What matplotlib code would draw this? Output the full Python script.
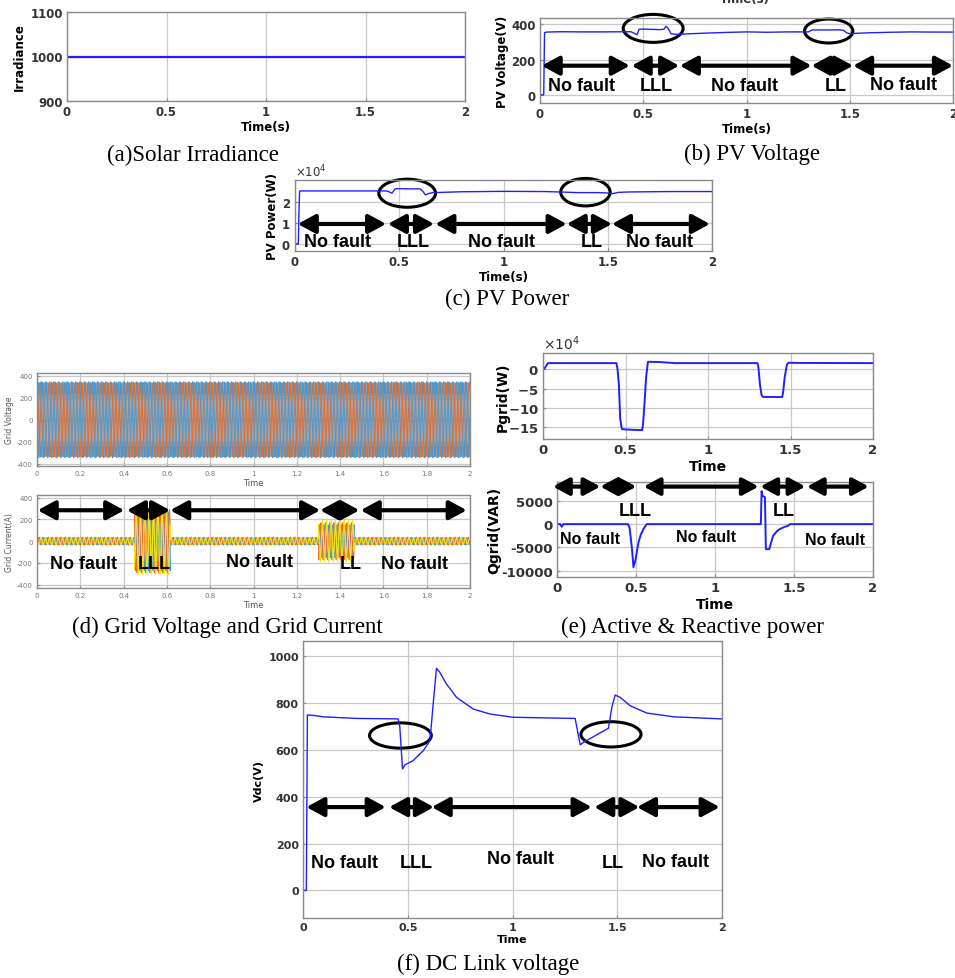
import matplotlib

matplotlib.use("Agg")
import matplotlib.pyplot as plt
import numpy as np
from matplotlib.patches import Ellipse
from matplotlib.ticker import ScalarFormatter

plt.rcParams["axes.unicode_minus"] = False

# ---------------- data ----------------
# (a) solar irradiance
t_irr = [0.0, 2.0]
irradiance = [1000, 1000]

# (b) PV voltage
t_pv = [0, 0.018, 0.022, 0.03, 0.1, 0.2, 0.3, 0.44, 0.455, 0.47, 0.48, 0.5, 0.55, 0.58,
        0.6, 0.61, 0.62, 0.635, 0.66, 0.7, 0.8, 0.9, 1.0, 1.1, 1.2, 1.3, 1.31, 1.32, 1.4,
        1.45, 1.47, 1.485, 1.5, 1.55, 1.6, 1.7, 1.8, 1.9, 2.0]
v_pv = [0, 0, 352, 356, 358, 357, 357, 358, 350, 341, 372, 373, 371, 370,
        372, 389, 378, 346, 343, 345, 350, 354, 357, 355, 357, 357, 364, 368, 368,
        369, 366, 352, 347, 350, 352, 355, 357, 356, 356]

# (c) PV power (W)
t_ppv = [0, 0.016, 0.018, 0.022, 0.03, 0.1, 0.2, 0.3, 0.44, 0.455, 0.465, 0.48, 0.5,
         0.55, 0.6, 0.615, 0.625, 0.64, 0.66, 0.7, 0.8, 1.0, 1.2, 1.3, 1.35, 1.45, 1.5,
         1.52, 1.55, 1.6, 1.8, 2.0]
p_pv = [0, 0, 12000, 25500, 25600, 25600, 25600, 25600, 25600, 25000, 24500, 26600, 26700,
        26600, 26600, 25200, 23700, 24300, 24800, 24900, 25200, 25400, 25300, 25000, 24800,
        24800, 24600, 24200, 24900, 25100, 25300, 25300]

# (d) grid voltage / current envelopes (peak values per phase)
grid_freq = 50.0
v_amp = [340, 335, 345]
seg_start = [0.0, 0.45, 0.615, 1.30, 1.465]
seg_end = [0.45, 0.615, 1.30, 1.465, 2.0]
i_amp_a = [32, 270, 32, 150, 32]
i_amp_b = [36, 290, 36, 170, 36]
i_amp_c = [30, 305, 30, 190, 30]

# (e) active power (W) and reactive power (VAR)
t_pg = [0, 0.01, 0.03, 0.445, 0.452, 0.46, 0.468, 0.478, 0.5, 0.6, 0.606, 0.615, 0.625,
        0.636, 0.7, 0.77, 0.8, 1.3, 1.305, 1.315, 1.325, 1.335, 1.45, 1.455, 1.465,
        1.478, 1.487, 1.55, 2.0]
p_grid = [0, 3000, 16500, 16500, 0, -40000, -130000, -156000, -157000, -159000, -145000,
          -90000, -20000, 20000, 19500, 17500, 16500, 16500, 8000, -40000, -68000, -72000,
          -72000, -60000, -20000, 12000, 17500, 17000, 16500]
t_qg = [0, 0.02, 0.03, 0.04, 0.45, 0.46, 0.475, 0.484, 0.495, 0.516, 0.53, 0.547, 0.568,
        1.29, 1.295, 1.3, 1.305, 1.316, 1.322, 1.343, 1.368, 1.39, 1.41, 1.44, 1.463,
        1.474, 2.0]
q_grid = [0, 0, -570, 0, 0, -900, -5500, -9300, -8000, -3900, -2300, -1070, 0,
          0, 7100, 6200, 6000, 5800, -5400, -5400, -2500, -1600, -1070, -600, -360,
          0, 0]

# (f) DC link voltage
t_dc = [0, 0.016, 0.021, 0.05, 0.096, 0.255, 0.454, 0.462, 0.475, 0.486, 0.526, 0.574,
        0.606, 0.622, 0.637, 0.653, 0.685, 0.733, 0.813, 0.892, 1.004, 1.299, 1.323,
        1.339, 1.386, 1.458, 1.474, 1.49, 1.514, 1.562, 1.641, 1.769, 2.0]
v_dc = [0, 0, 750, 748, 742, 735, 733, 700, 519, 536, 555, 597,
        640, 803, 949, 932, 882, 825, 775, 754, 740, 735, 622,
        633, 657, 693, 782, 835, 825, 789, 758, 742, 733]

# fault annotations: arrow spans (t0, t1) and labels (text, t, y)
arrows_b = [(0.008, 0.435), (0.444, 0.674), (0.677, 1.315), (1.315, 1.516), (1.516, 2.0)]
labels_b = [("No fault", 0.2, 51), ("LLL", 0.565, 51), ("No fault", 0.99, 51),
            ("LL", 1.43, 53), ("No fault", 1.76, 57)]
arrows_c = [(0.013, 0.437), (0.445, 0.667), (0.673, 1.303), (1.303, 1.52), (1.52, 1.99)]
labels_c = [("No fault", 0.205, 1000), ("LLL", 0.566, 1000), ("No fault", 0.99, 1000),
            ("LL", 1.423, 1000), ("No fault", 1.75, 1000)]
arrows_d = [(0.003, 0.403), (0.415, 0.615), (0.615, 1.308), (1.308, 1.489), (1.495, 1.985)]
labels_d = [("No fault", 0.215, -208), ("LLL", 0.543, -208), ("No fault", 1.028, -185),
            ("LL", 1.449, -208), ("No fault", 1.743, -208)]
arrows_e = [(-0.025, 0.274), (0.274, 0.502), (0.549, 1.276), (1.287, 1.572), (1.582, 1.973)]
labels_e_big = [("LLL", 0.495, 2850), ("LL", 1.435, 2850)]
labels_e = [("No fault", 0.21, -3200), ("No fault", 0.94, -2600), ("No fault", 1.76, -3300)]
arrows_f = [(0.016, 0.395), (0.411, 0.625), (0.614, 1.378), (1.39, 1.606), (1.594, 1.989)]
labels_f = [("No fault", 0.2, 121), ("LLL", 0.542, 121), ("No fault", 1.04, 137),
            ("LL", 1.479, 118), ("No fault", 1.78, 124)]

W, H = 955, 979
BLUE = "#1f1fff"
MAT_COLORS = ["#2a9ff0", "#f06a22", "#f5e600"]


def px_axes(fig, left, top, right, bottom):
    return fig.add_axes([left / W, 1 - bottom / H, (right - left) / W, (bottom - top) / H])


def style_axes(ax, size=8.5, bold=True, color="#333333"):
    weight = "bold" if bold else "normal"
    ax.grid(True, color="#c8c8c8", lw=0.9)
    ax.set_axisbelow(True)
    for sp in ax.spines.values():
        sp.set_color("#8a8a8a")
        sp.set_linewidth(1.0)
    ax.tick_params(direction="in", length=2.5, color="#8a8a8a", labelsize=size,
                   labelcolor=color, pad=3)
    for lab in ax.get_xticklabels() + ax.get_yticklabels():
        lab.set_fontweight(weight)


def draw_arrows(ax, spans, y, lw=3.0, scale=22):
    for t0, t1 in spans:
        ax.annotate("", xy=(t1, y), xytext=(t0, y), annotation_clip=False,
                    arrowprops=dict(arrowstyle="<|-|>,head_length=0.48,head_width=0.26",
                                    lw=lw, color="black", mutation_scale=scale,
                                    shrinkA=0, shrinkB=0))


def draw_labels(ax, labels, size=13):
    for txt, x, y in labels:
        ax.text(x, y, txt, ha="center", va="center", fontsize=size, fontweight="bold",
                family="Liberation Sans", clip_on=False)


def draw_ellipse(ax, x, y, w, h):
    ax.add_patch(Ellipse((x, y), w, h, fill=False, lw=2.2, ec="black", clip_on=False))


def caption(fig, x, y, txt):
    fig.text(x / W, 1 - y / H, txt, ha="center", va="center", fontsize=16.5,
             family="Liberation Serif")


def sci_axis(ax, power=4, size=8.5):
    fmt = ScalarFormatter(useMathText=True)
    fmt.set_powerlimits((power, power))
    ax.yaxis.set_major_formatter(fmt)
    ax.yaxis.get_offset_text().set_fontsize(size)
    ax.yaxis.get_offset_text().set_color("#333333")


fig = plt.figure(figsize=(W / 100, H / 100), dpi=100)
fig.patch.set_facecolor("white")
xt5 = [0, 0.5, 1, 1.5, 2]
xt5_lab = ["0", "0.5", "1", "1.5", "2"]

# (a) irradiance
ax = px_axes(fig, 67, 13, 465, 102)
ax.plot(t_irr, irradiance, color=BLUE, lw=1.6)
ax.set_xlim(0, 2)
ax.set_ylim(900, 1100)
ax.set_yticks([900, 1000, 1100])
ax.set_xticks(xt5, xt5_lab)
ax.set_xlabel("Time(s)", fontsize=8.5, fontweight="bold", labelpad=1)
ax.set_ylabel("Irradiance", fontsize=8.5, fontweight="bold", labelpad=3)
style_axes(ax)

# (b) PV voltage
ax = px_axes(fig, 540, 19, 953, 104)
ax.plot(t_pv, v_pv, color=BLUE, lw=1.0)
ax.set_xlim(0, 2)
ax.set_ylim(-47, 436)
ax.set_yticks([0, 200, 400])
ax.set_xticks(xt5, xt5_lab)
ax.set_xlabel("Time(s)", fontsize=8.5, fontweight="bold", labelpad=1)
ax.set_ylabel("PV Voltage(V)", fontsize=8.5, fontweight="bold", labelpad=2)
style_axes(ax)
draw_arrows(ax, arrows_b, 165)
draw_labels(ax, labels_b)
draw_ellipse(ax, 0.548, 377, 0.29, 159)
draw_ellipse(ax, 1.398, 362, 0.234, 136)
fig.text(745 / W, 1 + 1 / H, "Time(s)", ha="center", va="center", fontsize=8.5,
         fontweight="bold", color="#333333")

# (c) PV power
ax = px_axes(fig, 295, 181, 712, 252)
ax.plot(t_ppv, p_pv, color=BLUE, lw=1.0)
ax.set_xlim(0, 2)
ax.set_ylim(-3500, 30900)
ax.set_yticks([0, 10000, 20000])
ax.set_xticks(xt5, xt5_lab)
sci_axis(ax)
ax.set_xlabel("Time(s)", fontsize=8.5, fontweight="bold", labelpad=1)
ax.set_ylabel("PV Power(W)", fontsize=8.5, fontweight="bold", labelpad=2)
style_axes(ax)
draw_arrows(ax, arrows_c, 9600)
draw_labels(ax, labels_c)
draw_ellipse(ax, 0.538, 24500, 0.272, 13600)
draw_ellipse(ax, 1.393, 25000, 0.237, 13300)

# (d) grid voltage and current
t = np.linspace(0, 2, 40001)
phases = [0, -2 * np.pi / 3, 2 * np.pi / 3]
xt10 = np.round(np.arange(0, 2.01, 0.2), 1)
xt10_lab = ["0", "0.2", "0.4", "0.6", "0.8", "1", "1.2", "1.4", "1.6", "1.8", "2"]

ax = px_axes(fig, 37, 374, 470, 467)
for k, col in enumerate([MAT_COLORS[0], MAT_COLORS[1], "#6f8fa8"]):
    ax.plot(t, v_amp[k] * np.sin(2 * np.pi * grid_freq * t + phases[k]), color=col, lw=0.7)
ax.set_xlim(0, 2)
ax.set_ylim(-420, 424)
ax.set_yticks([-400, -200, 0, 200, 400])
ax.set_xticks(xt10, xt10_lab)
ax.set_xlabel("Time", fontsize=6, color="#555555", labelpad=1)
ax.set_ylabel("Grid Voltage", fontsize=5.5, color="#555555", labelpad=2)
style_axes(ax, size=5, bold=False, color="#777777")

ax = px_axes(fig, 37, 496, 470, 589)
amps = [i_amp_a, i_amp_b, i_amp_c]
for k, col in enumerate(MAT_COLORS):
    env = np.zeros_like(t)
    for s0, s1, a in zip(seg_start, seg_end, amps[k]):
        env[(t >= s0) & (t <= s1)] = a
    ax.plot(t, env * np.sin(2 * np.pi * grid_freq * t + phases[k]), color=col, lw=0.7)
ax.set_xlim(0, 2)
ax.set_ylim(-430, 424)
ax.set_yticks([-400, -200, 0, 200, 400])
ax.set_xticks(xt10, xt10_lab)
ax.set_xlabel("Time", fontsize=6, color="#555555", labelpad=1)
ax.set_ylabel("Grid Current(A)", fontsize=5.5, color="#555555", labelpad=2)
style_axes(ax, size=5, bold=False, color="#777777")
draw_arrows(ax, arrows_d, 284)
draw_labels(ax, labels_d)

# (e) active and reactive power
ax = px_axes(fig, 543, 354, 873, 440)
ax.plot(t_pg, p_grid, color=BLUE, lw=1.4)
ax.set_xlim(0, 2)
ax.set_ylim(-182000, 43000)
ax.set_yticks([-150000, -100000, -50000, 0])
ax.set_xticks(xt5, xt5_lab)
sci_axis(ax, 4, 10)
ax.set_xlabel("Time", fontsize=10, fontweight="bold", labelpad=2)
ax.set_ylabel("Pgrid(W)", fontsize=10, fontweight="bold", labelpad=-1)
style_axes(ax, size=9.5)

ax = px_axes(fig, 557, 483, 873, 578)
ax.plot(t_qg, q_grid, color=BLUE, lw=1.4)
ax.set_xlim(0, 2)
ax.set_ylim(-11400, 9080)
ax.set_yticks([-10000, -5000, 0, 5000])
ax.set_xticks(xt5, xt5_lab)
ax.set_xlabel("Time", fontsize=10, fontweight="bold", labelpad=2)
ax.set_ylabel("Qgrid(VAR)", fontsize=10, fontweight="bold", labelpad=0)
style_axes(ax, size=9.5)
draw_arrows(ax, arrows_e, 8090, scale=20)
draw_labels(ax, labels_e_big, size=13)
draw_labels(ax, labels_e, size=11.5)

# (f) DC link voltage
ax = px_axes(fig, 303, 642, 722, 919)
ax.plot(t_dc, v_dc, color=BLUE, lw=1.0)
ax.set_xlim(0, 2)
ax.set_ylim(-118, 1066)
ax.set_yticks([0, 200, 400, 600, 800, 1000])
ax.set_xticks(xt5, xt5_lab)
ax.set_xlabel("Time", fontsize=8, fontweight="bold", labelpad=1)
ax.set_ylabel("Vdc(V)", fontsize=8, fontweight="bold", labelpad=3)
style_axes(ax, size=8)
draw_arrows(ax, arrows_f, 356)
draw_labels(ax, labels_f)
draw_ellipse(ax, 0.465, 662, 0.295, 108)
draw_ellipse(ax, 1.47, 667, 0.287, 108)

caption(fig, 193, 155, "(a)Solar Irradiance")
caption(fig, 752, 154, "(b) PV Voltage")
caption(fig, 507, 299, "(c) PV Power")
caption(fig, 227, 627, "(d) Grid Voltage and Grid Current")
caption(fig, 692, 627, "(e) Active & Reactive power")
caption(fig, 488, 964, "(f) DC Link voltage")

fig.savefig("out.png", dpi=100)
plt.close(fig)
